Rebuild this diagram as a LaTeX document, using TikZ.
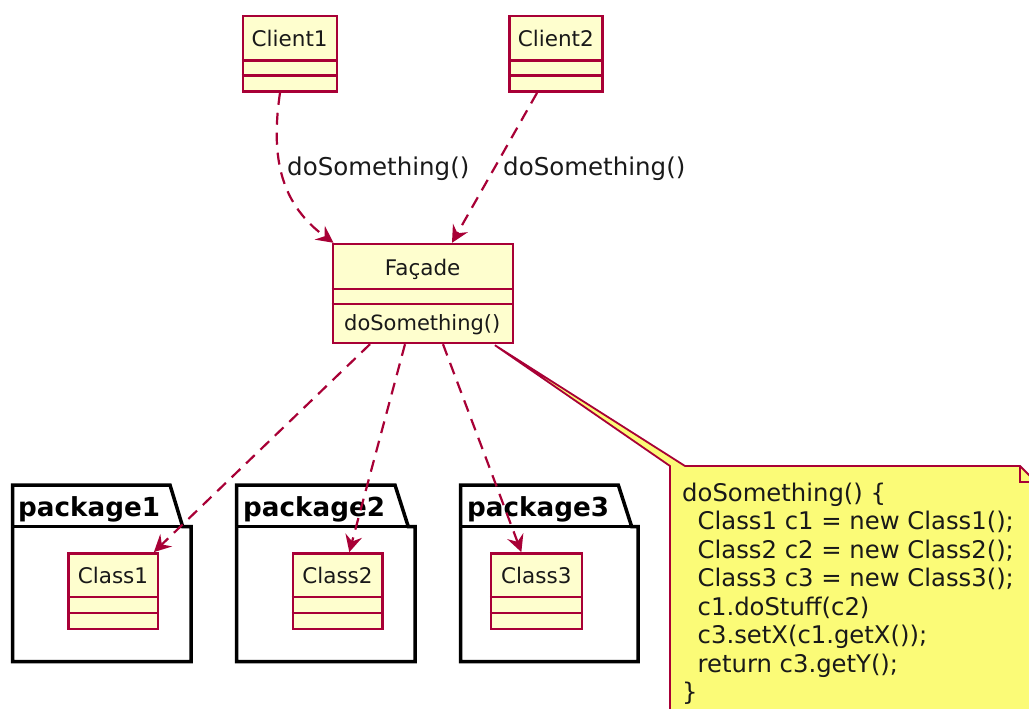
\documentclass[tikz,border=0pt]{standalone}
\usepackage{fontspec}
\setmainfont{DejaVu Sans}
\usetikzlibrary{arrows.meta}
\definecolor{bord}{HTML}{A80036}
\definecolor{clsfill}{HTML}{FEFECE}
\definecolor{notefill}{HTML}{FBFB77}
\begin{document}
\begin{tikzpicture}[x=1pt,y=-1pt,
  cls/.style={draw=bord, fill=clsfill, line width=2.4pt, rectangle, inner sep=0pt},
  cline/.style={draw=bord, line width=2.2pt},
  clsname/.style={font=\fontsize{21.5}{24}\selectfont, text=black!90, inner sep=0pt, anchor=base},
  meth/.style={font=\fontsize{21}{24}\selectfont, text=black!90, inner sep=0pt, anchor=base west},
  lbl/.style={font=\fontsize{24.5}{28}\selectfont, text=black!90, inner sep=0pt, anchor=base west},
  notetxt/.style={font=\fontsize{24.3}{28}\selectfont, text=black!90, inner sep=0pt, anchor=base west},
  pkg/.style={draw=black, line width=3.5pt, fill=white, line join=miter},
  pkgname/.style={font=\bfseries\fontsize{26.2}{30}\selectfont, text=black, inner sep=0pt, anchor=base west},
  dep/.style={draw=bord, line width=2.2pt, dash pattern=on 12pt off 8pt,
    -{Stealth[length=17pt,width=17pt,inset=6pt]}},
  notebody/.style={draw=bord, fill=notefill, line width=1.8pt, line join=miter}
]
\useasboundingbox (0,0) rectangle (1029,709);
\fill[white] (0,0) rectangle (1029,709);
\clip (0,0) rectangle (1029,709);

% packages
\draw[pkg] (12.7,485) -- (170,485) -- (182.7,526.7) -- (191,526.7) -- (191,661.7) -- (12.7,661.7) -- cycle;
\draw[pkg] (12.7,526.7) -- (182.7,526.7);
\node[pkgname] (pk1) at (18,516) {package1};
\draw[pkg] (236.7,485) -- (395,485) -- (408.3,526.7) -- (415,526.7) -- (415,661.7) -- (236.7,661.7) -- cycle;
\draw[pkg] (236.7,526.7) -- (408.3,526.7);
\node[pkgname] (pk2) at (243,516) {package2};
\draw[pkg] (460.7,485) -- (618.3,485) -- (631.7,526.7) -- (638,526.7) -- (638,661.7) -- (460.7,661.7) -- cycle;
\draw[pkg] (460.7,526.7) -- (631.7,526.7);
\node[pkgname] (pk3) at (467,516) {package3};

% classes
\node[cls, minimum width=94pt, minimum height=75.7pt] (client1) at (289.7,53.85) {};
\draw[cline] ([yshift=-45.7pt]client1.north west) -- ([yshift=-45.7pt]client1.north east);
\draw[cline] ([yshift=-60.7pt]client1.north west) -- ([yshift=-60.7pt]client1.north east);
\node[clsname] (client1t) at (289.7,46.6) {Client1};

\node[cls, minimum width=93pt, minimum height=75.7pt] (client2) at (555.8,53.85) {};
\draw[cline] ([yshift=-45.7pt]client2.north west) -- ([yshift=-45.7pt]client2.north east);
\draw[cline] ([yshift=-60.7pt]client2.north west) -- ([yshift=-60.7pt]client2.north east);
\node[clsname] (client2t) at (555.8,46.6) {Client2};

\node[cls, minimum width=180pt, minimum height=99pt] (facade) at (422.7,293.5) {};
\draw[cline] ([yshift=-46pt]facade.north west) -- ([yshift=-46pt]facade.north east);
\draw[cline] ([yshift=-61pt]facade.north west) -- ([yshift=-61pt]facade.north east);
\node[clsname] (facadet) at (422.7,275) {Façade};
\node[meth] (facadem) at (344,330.5) {doSomething()};

\node[cls, minimum width=89.4pt, minimum height=75.7pt] (class1) at (113,591.15) {};
\draw[cline] ([yshift=-45pt]class1.north west) -- ([yshift=-45pt]class1.north east);
\draw[cline] ([yshift=-60.7pt]class1.north west) -- ([yshift=-60.7pt]class1.north east);
\node[clsname] (class1t) at (113,583.6) {Class1};

\node[cls, minimum width=89.6pt, minimum height=75.7pt] (class2) at (337.5,591.15) {};
\draw[cline] ([yshift=-45pt]class2.north west) -- ([yshift=-45pt]class2.north east);
\draw[cline] ([yshift=-60.7pt]class2.north west) -- ([yshift=-60.7pt]class2.north east);
\node[clsname] (class2t) at (337.5,583.6) {Class2};

\node[cls, minimum width=90.7pt, minimum height=75.7pt] (class3) at (536.35,591.15) {};
\draw[cline] ([yshift=-45pt]class3.north west) -- ([yshift=-45pt]class3.north east);
\draw[cline] ([yshift=-60.7pt]class3.north west) -- ([yshift=-60.7pt]class3.north east);
\node[clsname] (class3t) at (536.35,583.6) {Class3};

% note
\coordinate (tip) at ([xshift=-19pt,yshift=-1pt]facade.south east);
\filldraw[notebody] (670,725) -- (670,466) -- (tip) -- (685,466) -- (1020,466) -- (1036,482) -- (1036,725) -- cycle;
\draw[notebody, fill=none] (1020,466) -- (1020,482) -- (1036,482);
\node[notetxt] (n1) at (682,501) {doSomething() \{};
\node[notetxt] (n2) at (682,529.5) {\hspace*{15.5pt}Class1 c1 = new Class1();};
\node[notetxt] (n3) at (682,558) {\hspace*{15.5pt}Class2 c2 = new Class2();};
\node[notetxt] (n4) at (682,586.5) {\hspace*{15.5pt}Class3 c3 = new Class3();};
\node[notetxt] (n5) at (682,615) {\hspace*{15.5pt}c1.doStuff(c2)};
\node[notetxt] (n6) at (682,643.5) {\hspace*{15.5pt}c3.setX(c1.getX());};
\node[notetxt] (n7) at (682,672) {\hspace*{15.5pt}return c3.getY();};
\node[notetxt] (n8) at (682,700.5) {\}};

% connectors
\draw[dep] ([xshift=-9.7pt]client1.south) .. controls (270,160) and (282,205) .. ([xshift=2pt]facade.north west);
\node[lbl] (l1) at (287,175.6) {doSomething()};
\draw[dep] ([xshift=-18.8pt]client2.south) -- ([xshift=29.3pt]facade.north);
\node[lbl] (l2) at (503,175.6) {doSomething()};
\draw[dep] ([xshift=-52.7pt]facade.south) -- ([xshift=-5pt]class1.north east);
\draw[dep] ([xshift=-17.7pt]facade.south) -- ([xshift=11.8pt]class2.north);
\draw[dep] ([xshift=20.3pt]facade.south) -- ([xshift=-15pt]class3.north);
\end{tikzpicture}
\end{document}
